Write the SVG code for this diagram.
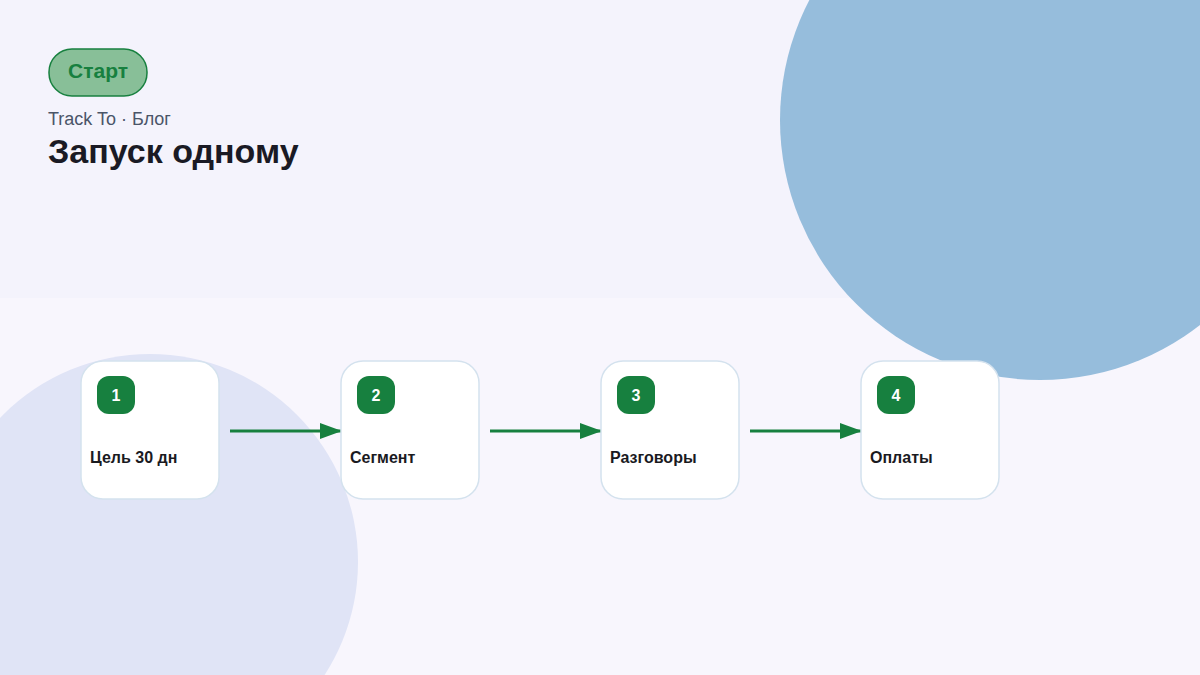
<svg xmlns="http://www.w3.org/2000/svg" width="1200" height="675" viewBox="0 0 1200 675">
<defs>
<style>
.card{fill:#ffffff;stroke:#d4e2ee;stroke-width:1.5}
.badge{fill:#17803f}
.num{font-family:"Liberation Sans",Arial,sans-serif;font-size:16px;font-weight:bold;fill:#ffffff;text-anchor:middle}
.lbl{font-family:"Liberation Sans",Arial,sans-serif;font-size:16px;font-weight:bold;fill:#1a1a1f}
.conn{stroke:#17803f;stroke-width:3;fill:none}
</style>
<marker id="ah" markerWidth="22" markerHeight="16" refX="21" refY="8" orient="auto" markerUnits="userSpaceOnUse">
<path d="M0,0 L22,8 L0,16 Z" fill="#17803f"/>
</marker>
</defs>
<rect x="0" y="0" width="1200" height="298" fill="#f4f3fc"/>
<rect x="0" y="298" width="1200" height="377" fill="#f8f6fd"/>
<circle cx="1040" cy="120" r="260" fill="#96bddc"/>
<circle cx="150" cy="562" r="208" fill="#e0e4f6"/>
<g id="start">
<rect x="49" y="49" width="98" height="47" rx="23" fill="#88bf98" stroke="#17803f" stroke-width="1.5"/>
<text x="98" y="78" font-family="Liberation Sans,Arial,sans-serif" font-size="21" font-weight="bold" fill="#17803f" text-anchor="middle">Старт</text>
</g>
<g id="header">
<text x="48" y="125" font-family="Liberation Sans,Arial,sans-serif" font-size="18" fill="#4a5568">Track To · Блог</text>
<text x="48" y="163" font-family="Liberation Sans,Arial,sans-serif" font-size="34" font-weight="bold" fill="#1a1a24">Запуск одному</text>
</g>
<g id="connectors">
<line class="conn" x1="230" y1="431" x2="341" y2="431" marker-end="url(#ah)"/>
<line class="conn" x1="490" y1="431" x2="601" y2="431" marker-end="url(#ah)"/>
<line class="conn" x1="750" y1="431" x2="861" y2="431" marker-end="url(#ah)"/>
</g>
<g id="node1">
<rect class="card" x="81" y="361" width="138" height="138" rx="22"/>
<rect class="badge" x="97" y="376" width="38" height="38" rx="12"/>
<text class="num" x="116" y="401">1</text>
<text class="lbl" x="90" y="463">Цель 30 дн</text>
</g>
<g id="node2">
<rect class="card" x="341" y="361" width="138" height="138" rx="22"/>
<rect class="badge" x="357" y="376" width="38" height="38" rx="12"/>
<text class="num" x="376" y="401">2</text>
<text class="lbl" x="350" y="463">Сегмент</text>
</g>
<g id="node3">
<rect class="card" x="601" y="361" width="138" height="138" rx="22"/>
<rect class="badge" x="617" y="376" width="38" height="38" rx="12"/>
<text class="num" x="636" y="401">3</text>
<text class="lbl" x="610" y="463">Разговоры</text>
</g>
<g id="node4">
<rect class="card" x="861" y="361" width="138" height="138" rx="22"/>
<rect class="badge" x="877" y="376" width="38" height="38" rx="12"/>
<text class="num" x="896" y="401">4</text>
<text class="lbl" x="870" y="463">Оплаты</text>
</g>
</svg>
